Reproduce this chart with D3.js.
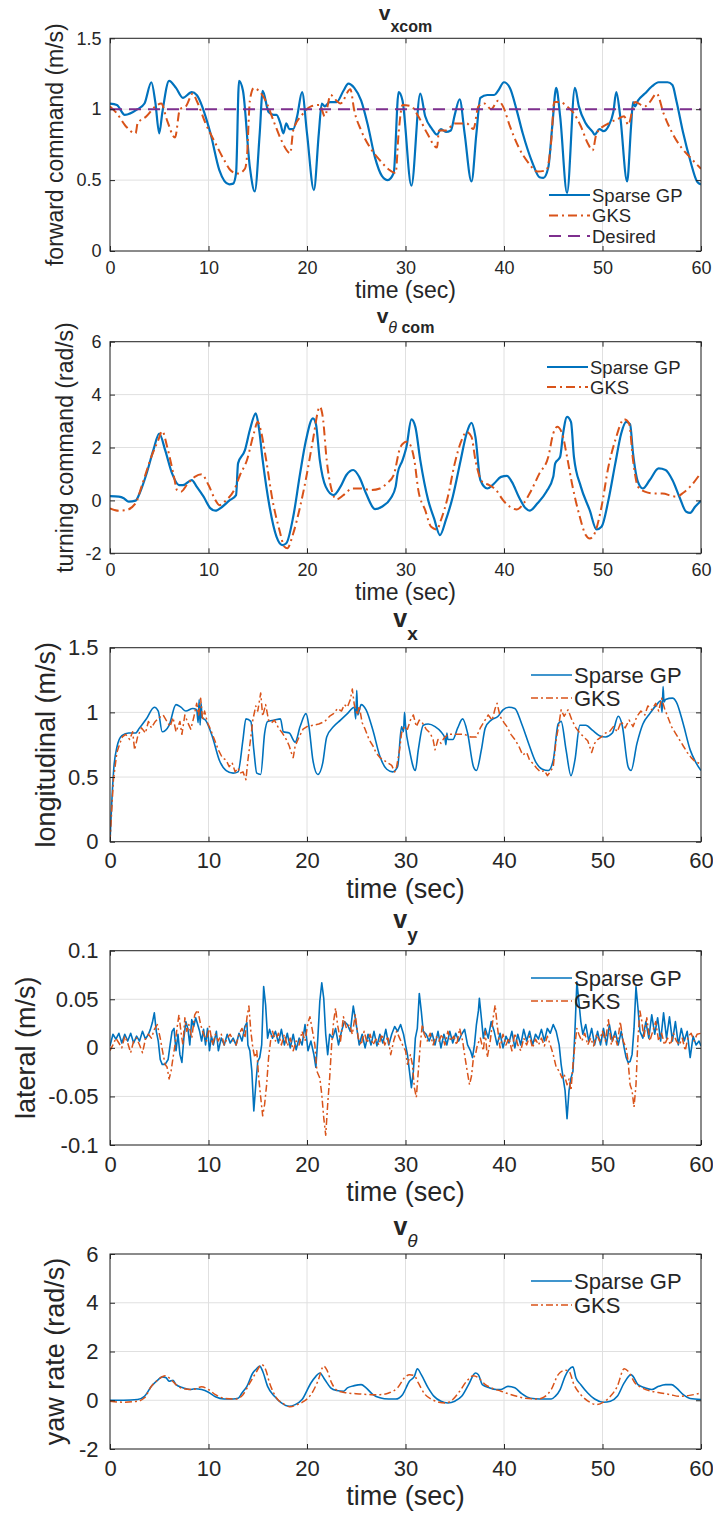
<!DOCTYPE html>
<html>
<head>
<meta charset="utf-8">
<script src="https://cdn.jsdelivr.net/npm/d3@7"></script>
<style>
    body { margin: 0; background: #fff; }
    svg { display: block; }
    text { font-family: "Liberation Sans", Arial, Helvetica, sans-serif; fill: #262626; }
</style>
</head>
<body>
<div id="chart"></div>
<script>

// shared time axis
const timeTicks = [0, 10, 20, 30, 40, 50, 60];
const seriesNames = ["Sparse GP", "GKS", "Desired"];

// ---- panel 1 : forward command v_xcom (m/s)
const vxcomTicks = [0, 0.5, 1, 1.5];
const vxcomSparseGP = [[0,1.04],[0.7,1.03],[1.5,0.96],[2.8,1.0],[3.5,1.04],[4.2,1.19],[4.6,1.05],[5.0,0.83],[5.3,0.97],[6.0,1.2],[6.7,1.15],[7.4,1.08],[8.3,1.12],[8.8,1.1],[10.2,0.83],[11.1,0.57],[12.1,0.47],[12.5,0.475],[12.8,0.55],[13.1,1.2],[13.5,1.13],[14.2,0.59],[14.7,0.42],[15.2,0.83],[15.5,1.13],[16.1,0.98],[16.6,0.96],[16.9,0.96],[17.3,0.9],[17.6,0.83],[17.9,0.9],[18.2,0.86],[18.6,0.86],[19.0,0.95],[19.5,1.12],[20.0,0.83],[20.7,0.43],[21.2,0.83],[21.5,1.04],[21.8,1.02],[22.3,1.05],[23.0,1.05],[23.7,1.13],[24.2,1.18],[24.8,1.15],[25.5,1.06],[26.2,0.88],[26.9,0.66],[27.6,0.53],[28.2,0.5],[28.8,0.55],[29.3,1.12],[29.7,1.06],[30.6,0.46],[31.5,1.11],[32.0,0.95],[32.7,0.86],[33.2,0.82],[33.6,0.86],[34.1,0.84],[34.6,0.85],[35.0,0.96],[35.5,1.07],[36.0,0.83],[36.7,0.49],[37.2,0.83],[37.6,1.08],[38.3,1.1],[39.0,1.1],[39.4,1.13],[40.0,1.19],[40.6,1.15],[41.3,0.99],[41.9,0.83],[42.9,0.62],[43.6,0.52],[44.0,0.515],[44.5,0.59],[44.9,0.88],[45.3,1.15],[45.7,0.95],[46.4,0.41],[47.2,1.15],[47.6,1.02],[48.3,0.9],[49.0,0.84],[49.2,0.82],[49.7,0.86],[50.1,0.845],[50.6,0.88],[51.1,0.98],[51.4,1.12],[51.8,0.95],[52.5,0.49],[52.9,0.88],[53.1,1.05],[53.3,1.02],[53.6,1.06],[54.3,1.11],[55.0,1.16],[55.7,1.19],[56.6,1.19],[57.1,1.17],[57.5,1.06],[58.2,0.83],[58.9,0.64],[59.6,0.49],[60,0.47]];
const vxcomGKS = [[0,1.02],[0.7,0.97],[1.6,0.88],[2.6,0.83],[2.8,0.9],[3.7,0.95],[4.6,1.02],[5.2,1.04],[5.8,0.92],[6.6,0.8],[7.1,1.0],[7.7,1.02],[8.4,1.11],[8.8,1.06],[9.7,0.9],[10.7,0.76],[11.6,0.64],[12.3,0.565],[13.0,0.546],[13.7,0.58],[13.9,0.66],[14.2,1.06],[14.6,1.15],[15.1,1.13],[15.8,1.06],[16.7,0.9],[17.4,0.78],[18.3,0.69],[18.6,0.85],[19.5,0.96],[20.4,1.02],[21.3,1.03],[21.8,0.95],[22.4,1.1],[23.0,1.06],[23.4,1.04],[24.4,1.14],[24.8,0.99],[25.5,0.85],[26.4,0.73],[27.4,0.64],[28.3,0.575],[29.0,0.55],[29.3,0.83],[29.7,1.03],[30.6,1.02],[31.3,0.95],[32.2,0.83],[33.2,0.73],[33.4,0.85],[34.1,0.85],[35.0,0.9],[36.2,0.9],[36.9,0.86],[37.4,1.02],[38.0,1.04],[38.7,1.0],[39.4,1.06],[39.9,1.02],[40.6,0.88],[41.5,0.73],[42.5,0.62],[43.4,0.56],[44.3,0.57],[44.8,0.78],[45.1,1.05],[45.7,1.05],[46.4,1.02],[47.1,0.97],[47.8,0.88],[48.5,0.76],[49.0,0.71],[49.4,0.83],[50.6,0.9],[51.5,0.93],[52.2,0.95],[52.6,0.89],[53.3,1.05],[54.3,1.02],[54.8,1.05],[55.5,1.11],[56.2,0.97],[57.1,0.83],[58.0,0.73],[58.9,0.66],[60,0.58]];
const vxcomDesired = [[0,1],[60,1]];

// ---- panel 2 : turning command v_theta com (rad/s)
const radTicks = [-2, 0, 2, 4, 6];
const vthcomSparseGP = [[0,0.16],[0.9,0.14],[1.4,0.08],[1.9,-0.05],[2.6,-0.01],[3.0,0.26],[3.7,1.0],[4.4,1.9],[5.0,2.53],[5.6,1.9],[6.3,1.02],[7.0,0.58],[7.4,0.58],[8.3,0.77],[8.8,0.52],[9.5,0.14],[10.2,-0.3],[10.7,-0.39],[11.4,-0.24],[12.1,-0.01],[12.8,0.2],[13.0,1.4],[13.7,1.9],[14.2,2.66],[14.8,3.29],[15.1,2.78],[15.5,1.52],[16.2,-0.24],[16.9,-1.37],[17.5,-1.69],[17.9,-1.62],[18.6,-0.62],[19.3,1.02],[19.9,2.28],[20.6,3.1],[20.9,2.9],[21.3,1.52],[21.9,0.52],[22.7,0.2],[23.4,0.52],[24.0,0.96],[24.7,1.15],[25.3,0.89],[26.0,0.26],[26.9,-0.33],[27.6,-0.24],[28.5,0.08],[29.0,0.52],[29.2,1.02],[29.7,1.52],[30.1,2.03],[30.6,3.06],[31.0,2.78],[31.5,1.52],[32.3,0.01],[32.9,-0.68],[33.5,-1.31],[34.1,-0.74],[34.8,0.14],[35.6,1.52],[36.2,2.53],[36.7,2.93],[37.1,2.4],[37.6,0.77],[38.3,0.45],[39.0,0.64],[39.7,0.89],[40.3,0.93],[40.8,0.7],[41.5,0.14],[42.2,-0.3],[42.6,-0.39],[43.4,-0.11],[44.3,0.33],[45.0,0.89],[45.2,1.4],[45.7,1.65],[46.0,2.53],[46.4,3.16],[46.8,2.97],[47.1,1.65],[47.8,0.52],[48.7,-0.37],[49.4,-1.1],[49.9,-1.0],[50.6,0.01],[51.3,1.4],[51.9,2.53],[52.4,2.97],[52.8,2.88],[53.1,1.78],[53.6,0.7],[54.1,0.45],[54.8,0.77],[55.7,1.21],[56.4,1.15],[57.1,0.77],[57.8,0.14],[58.5,-0.43],[58.9,-0.47],[59.4,-0.24],[60,-0.01]];
const vthcomGKS = [[0,-0.3],[0.9,-0.39],[1.6,-0.37],[2.6,-0.11],[3.2,0.52],[4.2,1.65],[4.9,2.28],[5.3,2.62],[5.8,2.03],[6.5,0.89],[6.8,0.39],[7.2,0.33],[7.9,0.64],[8.6,0.89],[9.3,0.99],[10.0,0.58],[10.7,0.01],[11.1,-0.18],[11.8,0.01],[12.6,0.39],[13.2,0.96],[13.9,1.52],[14.6,2.53],[15.0,2.97],[15.3,2.66],[15.8,1.65],[16.5,0.01],[17.2,-1.12],[17.7,-1.75],[18.0,-1.81],[18.6,-1.25],[19.3,-0.24],[20.0,1.02],[20.6,2.28],[21.3,3.54],[21.6,3.16],[22.0,1.52],[22.5,0.39],[23.0,0.04],[23.7,0.2],[24.6,0.45],[25.5,0.45],[26.5,0.39],[27.4,0.45],[28.1,0.64],[28.8,0.96],[29.5,2.03],[30.1,2.22],[30.4,2.15],[30.9,1.52],[31.3,0.39],[32.0,-0.37],[32.6,-1.0],[33.2,-1.1],[33.6,-0.74],[34.3,0.14],[35.0,1.4],[35.7,2.28],[36.2,2.59],[36.7,2.4],[37.1,1.52],[37.8,0.7],[38.5,0.58],[39.2,0.39],[39.9,0.01],[40.6,-0.24],[41.3,-0.34],[42.0,-0.11],[42.7,0.33],[43.6,1.02],[44.5,1.65],[45.0,2.53],[45.4,2.78],[45.9,2.53],[46.4,1.65],[46.9,0.64],[47.6,-0.49],[48.3,-1.31],[48.7,-1.44],[49.2,-1.25],[49.9,-0.24],[50.6,1.27],[51.3,2.28],[52.2,3.07],[52.7,2.91],[53.1,1.52],[53.6,0.52],[54.3,0.33],[55.2,0.26],[56.1,0.26],[57.1,0.16],[57.5,0.14],[58.2,0.29],[58.9,0.52],[60,1.05]];

// ---- panel 3 : longitudinal v_x (m/s)
const vxTicks = [0, 0.5, 1, 1.5];
const vxSparseGP = [[0,0],[0.14,0.24],[0.4,0.58],[0.7,0.73],[1.2,0.82],[1.9,0.84],[2.6,0.84],[3.0,0.88],[3.7,0.95],[4.5,1.04],[4.9,1.01],[5.3,0.85],[6.0,0.9],[6.7,1.06],[7.2,1.04],[7.7,1.01],[8.4,1.03],[8.8,1.02],[8.95,0.92],[9.05,1.1],[9.15,0.9],[9.25,1.07],[9.35,0.96],[9.7,0.94],[10.4,0.81],[11.1,0.63],[11.8,0.55],[12.5,0.53],[13.0,0.54],[13.5,0.79],[13.8,0.95],[14.3,0.93],[14.6,0.71],[14.9,0.53],[15.3,0.52],[15.7,0.84],[16.0,0.93],[16.7,0.94],[17.3,0.95],[17.6,0.85],[18.2,0.84],[18.8,0.77],[19.3,0.89],[19.9,0.99],[20.2,0.89],[20.6,0.63],[21.1,0.52],[21.6,0.61],[22.0,0.81],[22.7,0.89],[23.4,0.94],[24.1,0.99],[24.8,1.04],[24.95,0.95],[25.05,1.17],[25.15,0.98],[25.5,1.06],[26.0,1.02],[26.7,0.86],[27.4,0.66],[28.1,0.56],[28.7,0.54],[29.2,0.58],[29.6,0.89],[29.8,0.85],[29.9,1.0],[30.0,0.9],[30.4,0.71],[31.0,0.55],[31.3,0.71],[31.8,0.9],[32.3,0.91],[33.0,0.89],[33.6,0.85],[34.0,0.8],[34.1,0.75],[34.2,0.84],[34.3,0.79],[34.8,0.79],[35.3,0.88],[35.8,0.95],[36.3,0.84],[36.9,0.58],[37.2,0.55],[37.7,0.71],[38.1,0.88],[38.7,0.94],[39.4,0.97],[39.9,1.02],[40.5,1.04],[41.1,1.03],[41.8,0.91],[42.5,0.76],[43.2,0.62],[43.9,0.56],[44.5,0.55],[45.0,0.63],[45.5,0.91],[45.8,0.93],[46.3,0.71],[46.8,0.51],[47.2,0.63],[47.7,0.9],[48.3,0.9],[49.0,0.86],[49.7,0.82],[50.3,0.81],[51.0,0.84],[51.6,0.97],[52.0,0.9],[52.6,0.58],[52.9,0.55],[53.5,0.76],[54.1,0.91],[54.8,0.99],[55.5,1.06],[55.9,1.09],[56.05,1.0],[56.15,1.2],[56.25,1.08],[56.4,1.1],[57.1,1.11],[57.5,1.08],[58.2,0.91],[58.9,0.71],[59.5,0.61],[60,0.55]];
const vxGKS = [[0,0],[0.35,0.48],[0.7,0.69],[1.0,0.76],[1.25,0.81],[1.6,0.83],[2.0,0.79],[2.3,0.85],[2.5,0.71],[2.8,0.81],[3.2,0.88],[3.6,0.84],[3.9,0.93],[4.2,0.88],[4.6,0.93],[5.0,0.96],[5.4,0.98],[5.7,0.94],[6.1,0.89],[6.4,0.96],[6.7,0.85],[7.1,0.93],[7.3,0.83],[7.6,0.98],[7.9,0.92],[8.2,0.87],[8.5,0.96],[8.8,1.07],[9.0,0.98],[9.2,1.11],[9.4,0.94],[9.6,1.01],[9.9,0.92],[10.2,0.87],[10.6,0.79],[11.0,0.71],[11.4,0.65],[11.8,0.63],[12.1,0.58],[12.4,0.61],[12.7,0.54],[13.0,0.57],[13.2,0.53],[13.5,0.54],[13.8,0.48],[14.0,0.63],[14.3,0.81],[14.5,0.94],[14.8,1.05],[15.0,1.01],[15.3,1.15],[15.5,0.97],[15.8,1.06],[16.1,0.94],[16.4,0.92],[16.7,0.94],[17.1,0.88],[17.5,0.84],[17.9,0.79],[18.2,0.74],[18.4,0.69],[18.6,0.65],[18.8,0.74],[19.2,0.81],[19.6,0.87],[20.0,0.89],[20.6,0.9],[21.2,0.91],[21.8,0.93],[22.3,0.97],[22.7,0.99],[23.1,1.03],[23.5,1.01],[23.8,1.06],[24.1,1.04],[24.4,1.1],[24.6,1.18],[24.8,1.06],[25.1,0.98],[25.3,1.05],[25.6,0.92],[25.9,0.87],[26.3,0.79],[26.7,0.74],[27.0,0.69],[27.4,0.65],[27.8,0.63],[28.2,0.61],[28.6,0.59],[28.9,0.54],[29.1,0.58],[29.4,0.71],[29.6,0.84],[29.9,0.89],[30.2,0.87],[30.5,0.94],[30.8,0.98],[31.1,0.89],[31.4,0.94],[31.7,0.92],[32.1,0.87],[32.5,0.84],[32.8,0.79],[33.0,0.71],[33.3,0.79],[33.6,0.76],[33.9,0.8],[34.3,0.83],[34.8,0.83],[35.4,0.83],[36.0,0.83],[36.6,0.81],[37.2,0.81],[37.6,0.88],[38.0,0.93],[38.4,0.98],[38.8,0.94],[39.1,1.03],[39.3,1.07],[39.6,0.97],[40.0,0.92],[40.3,0.89],[40.7,0.83],[41.1,0.79],[41.5,0.74],[41.9,0.67],[42.3,0.69],[42.6,0.63],[43.0,0.6],[43.3,0.57],[43.7,0.54],[44.1,0.55],[44.4,0.51],[44.7,0.54],[45.0,0.58],[45.3,0.79],[45.6,0.92],[45.8,1.02],[46.1,0.97],[46.5,1.02],[46.9,0.94],[47.3,0.88],[47.7,0.84],[48.1,0.81],[48.5,0.78],[48.9,0.69],[49.2,0.76],[49.5,0.79],[49.9,0.81],[50.3,0.84],[50.7,0.85],[51.1,0.89],[51.5,0.85],[51.9,0.93],[52.3,0.88],[52.7,0.94],[53.1,0.89],[53.5,0.97],[53.9,1.01],[54.3,0.98],[54.6,1.05],[55.0,1.02],[55.4,1.07],[55.7,1.01],[56.0,1.11],[56.3,1.03],[56.6,0.97],[57.0,0.89],[57.4,0.84],[57.8,0.79],[58.2,0.74],[58.6,0.69],[59.0,0.65],[59.4,0.62],[60,0.6]];

// ---- panel 4 : lateral v_y (m/s)
const vyTicks = [-0.1, -0.05, 0, 0.05, 0.1];
const vySparseGP = [[0,0.002],[0.3,0.014],[0.6,0.009],[0.9,0.015],[1.2,0.005],[1.5,0.014],[1.8,0.007],[2.1,0.015],[2.4,0.005],[2.7,0.012],[3.0,0.007],[3.3,0.017],[3.6,0.009],[3.9,0.014],[4.1,0.019],[4.3,0.026],[4.5,0.036],[4.7,0.017],[4.9,0.007],[5.1,-0.012],[5.3,-0.017],[5.6,-0.017],[5.9,-0.012],[6.1,0.003],[6.3,0.017],[6.5,0.02],[6.7,-0.003],[6.9,0.014],[7.1,-0.007],[7.3,-0.015],[7.5,0.01],[7.7,0.027],[7.9,0.02],[8.1,0.003],[8.3,0.029],[8.5,0.022],[8.7,0.031],[8.9,0.024],[9.1,0.017],[9.3,0.007],[9.5,0.019],[9.7,0.003],[9.9,0.02],[10.1,-0.003],[10.3,0.012],[10.5,0.003],[10.8,0.017],[11.0,-0.003],[11.3,0.01],[11.6,0.003],[11.9,0.014],[12.2,0.005],[12.5,0.01],[12.8,0.003],[13.1,0.015],[13.4,0.007],[13.7,0.022],[13.9,0.026],[14.0,0.003],[14.2,-0.003],[14.4,-0.024],[14.6,-0.065],[14.8,-0.038],[15.0,-0.014],[15.2,-0.01],[15.4,0.003],[15.6,0.063],[15.8,0.044],[16.0,0.01],[16.2,0.019],[16.5,0.01],[16.8,0.017],[17.1,0.005],[17.4,0.019],[17.7,0.003],[18.0,0.015],[18.3,0],[18.6,0.014],[18.9,-0.002],[19.2,0.01],[19.5,0.003],[19.8,0.024],[20.1,-0.003],[20.4,0.007],[20.7,-0.007],[20.9,-0.02],[21.1,0.01],[21.3,0.048],[21.5,0.067],[21.7,0.051],[21.9,0.014],[22.1,-0.007],[22.3,0.014],[22.6,0.01],[22.9,0.02],[23.2,0.003],[23.5,0.017],[23.8,0.027],[24.1,0.024],[24.4,0.017],[24.7,0.043],[25.0,0.024],[25.3,0.003],[25.6,0.014],[25.9,0],[26.2,0.014],[26.5,0.003],[26.8,0.017],[27.1,0.002],[27.4,0.014],[27.7,0.005],[28.0,0.019],[28.3,0.003],[28.6,0.014],[28.9,0.022],[29.2,0.017],[29.5,0.024],[29.8,0.014],[30.0,0.003],[30.2,-0.007],[30.4,-0.024],[30.6,-0.041],[30.8,-0.024],[31.0,0.01],[31.2,0.02],[31.4,0.056],[31.6,0.038],[31.8,0.017],[32.1,0.014],[32.4,0.007],[32.7,0.015],[33.0,0.003],[33.3,0.017],[33.6,0],[33.9,0.014],[34.2,0.003],[34.5,0.017],[34.8,0.005],[35.1,0.015],[35.4,0.007],[35.7,0.014],[36.0,0.019],[36.3,0.003],[36.6,-0.003],[36.8,-0.01],[37.0,0.003],[37.2,0.024],[37.4,0.038],[37.5,0.051],[37.7,0.031],[37.9,0.01],[38.1,0.02],[38.4,0.01],[38.7,0.027],[39.0,0.017],[39.3,0.003],[39.6,0.015],[39.9,0],[40.2,0.012],[40.5,0.005],[40.8,0.017],[41.1,0],[41.4,0.014],[41.7,0.003],[42.0,0.019],[42.3,0.007],[42.6,0.017],[42.9,0.003],[43.2,0.014],[43.5,0.009],[43.8,0.019],[44.1,0.007],[44.4,0.02],[44.7,0.015],[45.0,0.024],[45.3,0.017],[45.6,0.003],[45.8,-0.017],[46.0,-0.031],[46.2,-0.044],[46.4,-0.073],[46.6,-0.044],[46.8,-0.031],[47.0,-0.024],[47.2,0.017],[47.4,0.068],[47.6,0.048],[47.8,0.027],[48.0,0.014],[48.3,0.024],[48.6,0.007],[48.9,0.02],[49.2,0.003],[49.5,0.017],[49.8,0.003],[50.1,0.02],[50.4,0.003],[50.7,0.024],[51.0,0.007],[51.3,0.017],[51.6,0.003],[51.9,0.017],[52.2,0],[52.4,-0.01],[52.6,-0.015],[52.8,-0.014],[53.0,-0.007],[53.2,0.02],[53.4,0.063],[53.6,0.041],[53.8,0.017],[54.1,0.01],[54.4,0.027],[54.7,0.01],[55.0,0.034],[55.3,0.014],[55.6,0.031],[55.9,0.007],[56.2,0.036],[56.5,0.01],[56.8,0.032],[57.1,0.007],[57.4,0.027],[57.7,0.003],[58.0,0.02],[58.3,0.007],[58.6,0.017],[58.9,-0.01],[59.2,0.012],[59.5,0.003],[59.8,0.007],[60,0.002]];
const vyGKS = [[0,-0.003],[0.3,0.003],[0.6,0.01],[0.9,0.005],[1.2,0],[1.5,0.012],[1.8,0.005],[2.1,-0.005],[2.4,0.007],[2.7,0.01],[3.0,0.003],[3.3,-0.005],[3.6,0.009],[3.9,0.014],[4.2,0.01],[4.5,0.019],[4.8,0.024],[5.1,0.01],[5.4,-0.007],[5.6,-0.017],[5.8,-0.02],[6.0,-0.032],[6.2,-0.024],[6.4,-0.01],[6.6,0.003],[6.8,0.02],[7.0,0.034],[7.2,0.017],[7.4,0.003],[7.6,0.031],[7.8,0.017],[8.0,0.024],[8.3,0.01],[8.6,0.034],[8.9,0.039],[9.2,0.024],[9.5,0.014],[9.8,0.007],[10.1,0.022],[10.4,0.003],[10.7,0.014],[11.0,0.007],[11.3,0.014],[11.6,0.003],[11.9,0.01],[12.2,0.014],[12.5,0.007],[12.8,0.003],[13.1,0.014],[13.4,0.02],[13.7,0.01],[13.9,0.031],[14.1,0.043],[14.3,0.017],[14.5,0],[14.7,-0.01],[14.9,-0.003],[15.1,-0.031],[15.3,-0.051],[15.5,-0.07],[15.7,-0.058],[15.9,-0.038],[16.1,-0.01],[16.3,0.007],[16.5,0.017],[16.8,0.007],[17.1,0.015],[17.4,0.003],[17.7,0.014],[18.0,0.002],[18.3,0.01],[18.6,-0.003],[18.9,0.007],[19.2,0.003],[19.5,0.017],[19.8,0.007],[20.1,0.026],[20.3,0.032],[20.6,0.015],[20.8,0.003],[21.0,-0.024],[21.3,-0.031],[21.5,-0.048],[21.7,-0.072],[21.9,-0.09],[22.1,-0.058],[22.3,-0.031],[22.5,0.003],[22.7,0.027],[22.9,0.041],[23.1,0.024],[23.4,0.007],[23.7,0.032],[24.0,0.02],[24.3,0.024],[24.6,0.014],[24.9,0.034],[25.2,0.01],[25.5,0.003],[25.8,0.017],[26.1,0.005],[26.4,0.014],[26.7,0.003],[27.0,0.009],[27.3,0.003],[27.6,0.014],[27.9,0.003],[28.2,0.012],[28.5,-0.007],[28.8,0.007],[29.1,0.017],[29.4,0.01],[29.7,0.003],[30.0,-0.003],[30.2,-0.017],[30.5,-0.007],[30.7,-0.017],[30.9,-0.041],[31.1,-0.051],[31.3,-0.024],[31.5,0.003],[31.7,0.024],[31.9,0.014],[32.2,0.007],[32.5,0.015],[32.8,0.003],[33.1,0.012],[33.4,0.007],[33.7,0.014],[34.0,0.003],[34.3,0.017],[34.6,0.007],[34.9,0.012],[35.2,0.003],[35.5,0.02],[35.8,0.007],[36.0,-0.007],[36.2,-0.02],[36.5,-0.038],[36.7,-0.029],[36.9,-0.01],[37.1,-0.007],[37.3,0.003],[37.6,0.01],[37.9,-0.003],[38.1,0.017],[38.3,-0.01],[38.6,0.007],[38.9,0.031],[39.1,0.044],[39.3,0.024],[39.6,0],[39.9,0.014],[40.2,0.003],[40.5,0.01],[40.8,-0.003],[41.1,0.015],[41.4,0.003],[41.7,-0.003],[42.0,0.01],[42.3,0.003],[42.6,0.012],[42.9,0],[43.2,0.009],[43.5,0.003],[43.8,0.01],[44.1,0.002],[44.4,0.012],[44.7,0.003],[45.0,-0.007],[45.3,-0.02],[45.6,-0.024],[45.9,-0.031],[46.1,-0.027],[46.4,-0.038],[46.6,-0.032],[46.8,-0.044],[47.0,-0.017],[47.2,0.003],[47.4,0.02],[47.6,0.014],[47.9,0.007],[48.2,0.015],[48.5,0.003],[48.8,0.01],[49.1,0.002],[49.4,0.014],[49.7,0.007],[50.0,0.017],[50.3,0.007],[50.6,0.029],[50.9,0.003],[51.2,0.014],[51.5,0.003],[51.8,0.027],[52.1,0.007],[52.4,0],[52.6,-0.014],[52.8,-0.038],[53.0,-0.044],[53.2,-0.061],[53.4,-0.038],[53.6,0.01],[53.8,0.038],[54.0,0.027],[54.2,0.01],[54.5,0.031],[54.8,0.007],[55.1,0.017],[55.4,0.027],[55.7,0.007],[56.0,0.015],[56.3,0.003],[56.6,0.01],[56.9,0.003],[57.2,0.015],[57.5,0.007],[57.8,0.003],[58.1,0.01],[58.4,-0.003],[58.7,0.012],[59.0,0.015],[59.3,0.007],[59.6,0.014],[60,0.015]];

// ---- panel 5 : yaw rate v_theta (rad/s)
const vthSparseGP = [[0,0],[1.4,0],[2.8,0.03],[3.5,0.16],[4.2,0.57],[4.9,0.85],[5.3,0.96],[5.7,0.92],[6.0,0.78],[6.4,0.82],[6.7,0.64],[7.4,0.51],[8.1,0.44],[8.6,0.47],[9.3,0.44],[10.0,0.33],[10.7,0.14],[11.6,0.05],[12.5,0.05],[13.0,0.08],[13.4,0.3],[13.9,0.57],[14.5,1.12],[14.8,1.26],[15.2,1.4],[15.5,1.19],[16.0,0.57],[16.7,0.16],[17.4,-0.11],[18.2,-0.25],[18.8,-0.18],[19.5,0.03],[20.4,0.71],[20.9,0.98],[21.3,1.12],[21.8,0.85],[22.4,0.51],[23.0,0.4],[23.7,0.37],[24.1,0.51],[24.8,0.6],[25.5,0.64],[26.0,0.51],[26.7,0.23],[27.4,0.1],[28.3,0.05],[29.0,0.05],[29.7,0.23],[30.4,0.78],[30.9,0.98],[31.2,1.29],[31.6,1.05],[32.3,0.51],[32.9,0.16],[33.6,-0.04],[34.3,-0.11],[35.0,-0.04],[35.7,0.16],[36.4,0.64],[37.1,1.12],[37.4,1.05],[37.8,0.64],[38.5,0.51],[39.2,0.44],[39.7,0.44],[40.4,0.57],[41.1,0.51],[41.8,0.27],[42.7,0.08],[43.6,0.05],[44.8,0.05],[45.2,0.16],[45.7,0.44],[46.2,0.98],[46.6,1.26],[47.0,1.37],[47.3,0.92],[47.8,0.64],[48.5,0.3],[49.2,0.05],[50.1,-0.08],[50.8,-0.04],[51.5,0.16],[52.2,0.71],[52.9,1.05],[53.1,0.98],[53.6,0.64],[54.3,0.51],[55.0,0.44],[55.7,0.57],[56.4,0.64],[57.0,0.64],[57.5,0.51],[58.2,0.23],[58.9,0.07],[60,0.03]];
const vthGKS = [[0,-0.04],[1.4,-0.08],[2.8,-0.04],[3.5,0.1],[4.2,0.57],[4.9,0.85],[5.6,1.01],[6.0,0.92],[6.7,0.64],[7.4,0.48],[8.4,0.44],[9.3,0.55],[10.0,0.44],[10.7,0.23],[11.6,0.08],[12.8,0.05],[13.5,0.23],[14.2,0.71],[14.8,1.12],[15.4,1.46],[15.8,1.26],[16.2,0.71],[16.9,0.1],[17.6,-0.14],[18.3,-0.27],[19.0,-0.18],[19.7,-0.04],[20.4,0.23],[21.1,0.78],[21.7,1.4],[22.0,1.26],[22.5,0.71],[23.2,0.37],[24.1,0.3],[25.3,0.26],[26.5,0.23],[27.4,0.23],[28.3,0.3],[29.2,0.51],[29.9,0.92],[30.4,1.05],[30.9,1.01],[31.3,0.71],[32.0,0.23],[32.7,0.03],[33.4,-0.08],[34.1,-0.11],[34.8,0.03],[35.5,0.37],[36.2,0.78],[36.9,1.01],[37.4,0.92],[38.1,0.64],[38.7,0.51],[39.7,0.37],[40.4,0.27],[41.3,0.16],[42.2,0.08],[43.4,0.05],[44.1,0.14],[44.8,0.44],[45.5,1.05],[46.2,1.23],[46.6,1.19],[47.1,0.64],[47.8,0.23],[48.7,-0.08],[49.4,-0.18],[50.1,-0.08],[50.8,0.16],[51.5,0.57],[52.2,1.29],[52.6,1.19],[53.3,0.71],[54.0,0.51],[55.0,0.37],[55.9,0.3],[56.9,0.23],[57.8,0.16],[58.7,0.19],[60,0.3]];

// ---------------------------------------------------------------

const W = 713, H = 1517;
const left = 110, right = 701;
const blue = "#0072BD", orange = "#D95319", purple = "#7E2F8E", ink = "#262626";

const svg = d3.select("#chart").append("svg")
    .attr("width", W)
    .attr("height", H);

const x = d3.scaleLinear().domain([0, 60]).range([left, right]);
const fmt = d => String(d);

// small size (top two panels) / big size (bottom three)
const small = {tick: 18, label: 23, legend: 18.5, title: 21, sub: 16, lwB: 2.2, lwO: 2, dash: "9,4,2,4", xPad: 10, yPad: 8.5, xlab: 47};
const big = {tick: 22, label: 27, legend: 22, title: 25, sub: 19, lwB: 1.6, lwO: 1.5, dash: "7,3,2,3", xPad: 11, yPad: 11.5, xlab: 56};

function drawPanel(p) {
    const s = p.size;
    const y = d3.scaleLinear().domain(d3.extent(p.yTicks)).range([p.bottom, p.top]);
    const g = svg.append("g");

    svg.append("clipPath").attr("id", "clip" + p.id)
        .append("rect")
        .attr("x", left).attr("y", p.top)
        .attr("width", right - left).attr("height", p.bottom - p.top);

    // grid
    g.append("g").selectAll("line").data(timeTicks).join("line")
        .attr("x1", d => x(d)).attr("x2", d => x(d))
        .attr("y1", p.top).attr("y2", p.bottom)
        .attr("stroke", "#e0e0e0").attr("stroke-width", 1);
    g.append("g").selectAll("line").data(p.yTicks).join("line")
        .attr("x1", left).attr("x2", right)
        .attr("y1", d => y(d)).attr("y2", d => y(d))
        .attr("stroke", "#e0e0e0").attr("stroke-width", 1);

    // lines
    p.series.forEach(ser => {
        const line = d3.line()
            .x(d => x(d[0]))
            .y(d => y(d[1]))
            .curve(ser.smooth ? d3.curveMonotoneX : d3.curveLinear);
        g.append("path").datum(ser.data)
            .attr("clip-path", "url(#clip" + p.id + ")")
            .attr("fill", "none")
            .attr("stroke", ser.color)
            .attr("stroke-width", ser.width)
            .attr("stroke-dasharray", ser.dash || null)
            .attr("stroke-linejoin", "round")
            .attr("d", line);
    });

    // axes, ticks pointing inside
    const axes = [
        g.append("g").attr("transform", `translate(0,${p.bottom})`)
            .call(d3.axisBottom(x).tickValues(timeTicks).tickFormat(fmt).tickSizeInner(-5).tickSizeOuter(0).tickPadding(s.xPad)),
        g.append("g").attr("transform", `translate(0,${p.top})`)
            .call(d3.axisTop(x).tickValues(timeTicks).tickFormat("").tickSizeInner(-5).tickSizeOuter(0)),
        g.append("g").attr("transform", `translate(${left},0)`)
            .call(d3.axisLeft(y).tickValues(p.yTicks).tickFormat(fmt).tickSizeInner(-5).tickSizeOuter(0).tickPadding(s.yPad)),
        g.append("g").attr("transform", `translate(${right},0)`)
            .call(d3.axisRight(y).tickValues(p.yTicks).tickFormat("").tickSizeInner(-5).tickSizeOuter(0))
    ];
    axes.forEach(a => {
        a.select(".domain").remove();
        a.selectAll(".tick line").attr("stroke", ink);
        a.selectAll(".tick text")
            .style("font-family", '"Liberation Sans", Arial, sans-serif')
            .style("font-size", s.tick + "px")
            .attr("fill", ink);
    });

    g.append("rect")
        .attr("x", left).attr("y", p.top)
        .attr("width", right - left).attr("height", p.bottom - p.top)
        .attr("fill", "none").attr("stroke", ink).attr("stroke-width", 1);

    // x label
    g.append("text")
        .attr("x", (left + right) / 2).attr("y", p.bottom + s.xlab)
        .attr("text-anchor", "middle")
        .style("font-size", s.label + "px")
        .text("time (sec)");

    // y label
    g.append("text")
        .attr("transform", `translate(${p.yLabelX},${(p.top + p.bottom) / 2}) rotate(-90)`)
        .attr("text-anchor", "middle")
        .style("font-size", s.label + "px")
        .text(p.yLabel);

    // title: bold v with subscript
    const t = g.append("text")
        .attr("x", (left + right) / 2).attr("y", p.titleY)
        .attr("text-anchor", "middle")
        .style("font-size", s.title + "px");
    t.append("tspan").attr("font-weight", "bold").text("v");
    p.titleSub.forEach((part, i) => {
        const ts = t.append("tspan")
            .style("font-size", s.sub + "px")
            .attr("font-weight", part.italic ? "normal" : "bold")
            .attr("font-style", part.italic ? "italic" : "normal")
            .text(part.text);
        if (i === 0) ts.attr("dy", p.subDy);
    });

    // legend, no box
    p.series.forEach((ser, i) => {
        const ly = p.legendY + i * p.legendStep;
        g.append("line")
            .attr("x1", p.legendX).attr("x2", p.legendX + 41)
            .attr("y1", ly).attr("y2", ly)
            .attr("stroke", ser.color).attr("stroke-width", ser.width)
            .attr("stroke-dasharray", ser.dash || null);
        g.append("text")
            .attr("x", p.legendX + 43).attr("y", ly).attr("dy", "0.36em")
            .style("font-size", s.legend + "px")
            .text(ser.name);
    });
}

drawPanel({
    id: 1, size: small, top: 38.3, bottom: 251, yTicks: vxcomTicks,
    yLabel: "forward command (m/s)", yLabelX: 63,
    titleY: 20, subDy: 12, titleSub: [{text: "xcom"}],
    legendX: 549, legendY: 195, legendStep: 20.5,
    series: [
        {name: seriesNames[0], data: vxcomSparseGP, color: blue, width: small.lwB, smooth: true},
        {name: seriesNames[1], data: vxcomGKS, color: orange, width: small.lwO, dash: small.dash, smooth: true},
        {name: seriesNames[2], data: vxcomDesired, color: purple, width: 2, dash: "12,7"}
    ]
});

drawPanel({
    id: 2, size: small, top: 341.7, bottom: 553.3, yTicks: radTicks,
    yLabel: "turning command (rad/s)", yLabelX: 73,
    titleY: 323, subDy: 10, titleSub: [{text: "\u03b8", italic: true}, {text: " com"}],
    legendX: 547, legendY: 367, legendStep: 20,
    series: [
        {name: seriesNames[0], data: vthcomSparseGP, color: blue, width: small.lwB, smooth: true},
        {name: seriesNames[1], data: vthcomGKS, color: orange, width: small.lwO, dash: small.dash, smooth: true}
    ]
});

drawPanel({
    id: 3, size: big, top: 647.7, bottom: 841.7, yTicks: vxTicks,
    yLabel: "longitudinal (m/s)", yLabelX: 55,
    titleY: 627, subDy: 13, titleSub: [{text: "x"}],
    legendX: 531, legendY: 675, legendStep: 23,
    series: [
        {name: seriesNames[0], data: vxSparseGP, color: blue, width: big.lwB, smooth: true},
        {name: seriesNames[1], data: vxGKS, color: orange, width: big.lwO, dash: big.dash}
    ]
});

drawPanel({
    id: 4, size: big, top: 950.7, bottom: 1145, yTicks: vyTicks,
    yLabel: "lateral (m/s)", yLabelX: 35,
    titleY: 928, subDy: 13, titleSub: [{text: "y"}],
    legendX: 531, legendY: 978, legendStep: 23,
    series: [
        {name: seriesNames[0], data: vySparseGP, color: blue, width: big.lwB},
        {name: seriesNames[1], data: vyGKS, color: orange, width: big.lwO, dash: big.dash}
    ]
});

drawPanel({
    id: 5, size: big, top: 1254, bottom: 1449, yTicks: radTicks,
    yLabel: "yaw rate (rad/s)", yLabelX: 64,
    titleY: 1235, subDy: 12, titleSub: [{text: "\u03b8", italic: true}],
    legendX: 531, legendY: 1281, legendStep: 24,
    series: [
        {name: seriesNames[0], data: vthSparseGP, color: blue, width: big.lwB, smooth: true},
        {name: seriesNames[1], data: vthGKS, color: orange, width: big.lwO, dash: big.dash, smooth: true}
    ]
});

</script>
</body>
</html>
